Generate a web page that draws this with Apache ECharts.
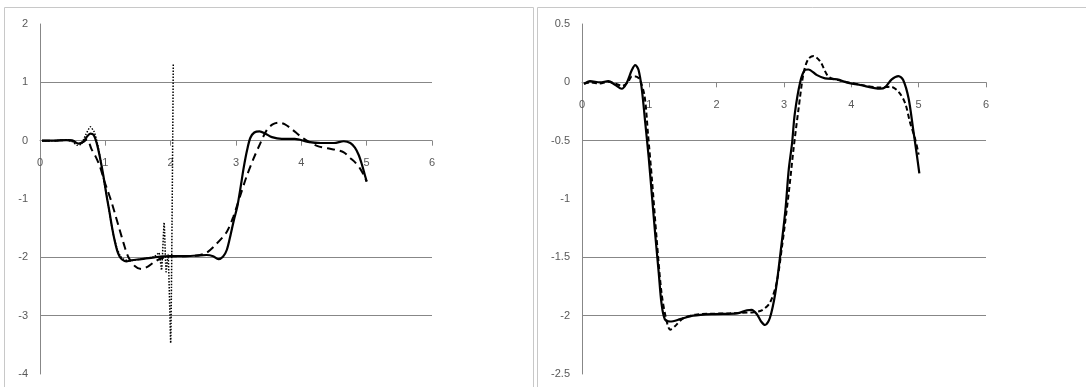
<!DOCTYPE html>
<html>
<head>
<meta charset="utf-8">
<script src="https://cdn.jsdelivr.net/npm/echarts@6/dist/echarts.min.js"></script>
<style>
html,body{margin:0;padding:0;background:#fff;}
#c{width:1086px;height:387px;}
</style>
</head>
<body>
<div id="c"></div>
<script>
// ---- Left panel data ----
var xTicksLeft = [0, 1, 2, 3, 4, 5, 6];
var yTicksLeft = [2, 1, 0, -1, -2, -3, -4];

var leftSolidX = [0.03,0.2,0.4,0.5,0.59,0.66,0.72,0.77,0.82,0.87,0.92,0.97,1.02,1.06,1.10,1.14,1.18,1.22,1.26,1.32,1.40,1.55,1.75,2.0,2.2,2.4,2.55,2.65,2.73,2.80,2.86,2.92,2.97,3.02,3.07,3.12,3.17,3.22,3.28,3.36,3.45,3.55,3.7,3.9,4.1,4.3,4.5,4.65,4.75,4.82,4.88,4.93,4.97,5.0];
var leftSolidY = [0,0,0.01,0,-0.05,-0.02,0.07,0.12,0.1,-0.05,-0.3,-0.6,-0.95,-1.2,-1.47,-1.7,-1.88,-1.99,-2.04,-2.07,-2.05,-2.03,-2.0,-1.98,-1.98,-1.97,-1.96,-1.98,-2.03,-1.99,-1.87,-1.6,-1.35,-1.13,-0.8,-0.45,-0.16,0.05,0.14,0.16,0.12,0.06,0.03,0.03,-0.02,-0.04,-0.04,-0.01,-0.04,-0.12,-0.25,-0.42,-0.58,-0.7];

var leftDashX = [0.03,0.2,0.4,0.5,0.58,0.65,0.72,0.79,0.85,0.92,0.98,1.04,1.10,1.16,1.22,1.28,1.35,1.45,1.55,1.65,1.75,1.85,2.0,2.2,2.4,2.55,2.7,2.86,2.96,3.06,3.16,3.26,3.37,3.47,3.56,3.65,3.75,3.85,4.03,4.24,4.4,4.54,4.65,4.75,4.83,4.9,4.96,5.0];
var leftDashY = [0,0,0.01,0,-0.05,-0.03,0.02,-0.15,-0.27,-0.45,-0.68,-0.87,-1.07,-1.3,-1.53,-1.76,-1.99,-2.15,-2.2,-2.16,-2.08,-2.02,-1.98,-1.98,-1.97,-1.92,-1.77,-1.56,-1.30,-0.96,-0.62,-0.33,-0.05,0.18,0.28,0.31,0.28,0.2,0.04,-0.09,-0.13,-0.16,-0.2,-0.3,-0.38,-0.48,-0.6,-0.7];

var leftDotX = [0.03,0.2,0.4,0.5,0.57,0.63,0.7,0.77,0.83,0.88,0.93,0.98,1.03,1.08,1.13,1.18,1.23,1.28,1.35,1.45,1.6,1.75,1.82,1.86,1.9,1.93,1.96,2.0,2.04];
var leftDotY = [0,0,0.01,-0.02,-0.08,-0.06,0.1,0.24,0.15,-0.05,-0.35,-0.7,-1.0,-1.35,-1.65,-1.85,-1.98,-2.03,-2.06,-2.05,-2.02,-1.99,-1.92,-2.22,-1.4,-2.25,-1.95,-3.47,1.33];

// ---- Right panel data ----
var xTicksRight = [0, 1, 2, 3, 4, 5, 6];
var yTicksRight = [0.5, 0, -0.5, -1, -1.5, -2, -2.5];

var rightSolidX = [0.03,0.12,0.27,0.39,0.49,0.59,0.66,0.74,0.79,0.84,0.89,0.94,0.99,1.04,1.09,1.14,1.18,1.23,1.31,1.46,1.65,1.95,2.30,2.45,2.52,2.60,2.66,2.72,2.79,2.87,2.94,3.02,3.07,3.12,3.16,3.24,3.31,3.36,3.49,3.61,3.79,3.93,4.13,4.43,4.50,4.60,4.70,4.77,4.85,4.92,4.97,5.01];
var rightSolidY = [-0.015,0.01,0,0.01,-0.02,-0.055,-0.01,0.105,0.148,0.105,-0.066,-0.35,-0.64,-0.98,-1.32,-1.635,-1.89,-2.03,-2.05,-2.03,-2.0,-1.986,-1.98,-1.954,-1.95,-1.99,-2.05,-2.08,-2.02,-1.81,-1.5,-1.1,-0.75,-0.52,-0.27,0.0,0.105,0.11,0.062,0.034,0.026,0.0,-0.023,-0.055,-0.043,0.026,0.054,0.02,-0.137,-0.41,-0.61,-0.78];

var rightDashX = [0.03,0.12,0.27,0.39,0.49,0.6,0.68,0.74,0.8,0.86,0.93,0.98,1.04,1.11,1.18,1.25,1.31,1.38,1.51,1.71,2.2,2.55,2.67,2.79,2.89,2.97,3.07,3.14,3.22,3.29,3.36,3.44,3.54,3.66,3.84,4.13,4.43,4.58,4.70,4.80,4.87,4.95,5.0];
var rightDashY = [-0.01,0,-0.01,0.005,-0.01,-0.03,0.0,0.05,0.05,0.02,-0.12,-0.44,-0.84,-1.35,-1.80,-2.03,-2.12,-2.09,-2.02,-1.99,-1.98,-1.97,-1.955,-1.89,-1.72,-1.41,-0.95,-0.58,-0.21,0.077,0.20,0.225,0.177,0.05,0.014,-0.02,-0.045,-0.037,-0.08,-0.18,-0.34,-0.49,-0.62];

function pairs(xs, ys){ return xs.map(function(x,i){ return [x, ys[i]]; }); }

var GRID = '#878787';
var TXT = '#595959';
var FONT = 'Liberation Sans';
var GRID_H = 350;
var splitColors = ['rgba(0,0,0,0)', GRID, GRID, 'rgba(0,0,0,0)', GRID, GRID, 'rgba(0,0,0,0)'];

// offset (px) that lifts a bottom x axis to y = 0 of its y axis
function zeroOffset(yt){
  var mn = yt[yt.length-1], mx = yt[0];
  return -((0 - mn) / (mx - mn)) * GRID_H;
}

function xAxisDef(gi, xt, yt){
  return {
    type:'value', gridIndex:gi, min:xt[0], max:xt[xt.length-1], interval:1,
    position:'bottom', offset: zeroOffset(yt),
    axisLine:{show:true, onZero:false, lineStyle:{color:GRID, width:1}},
    axisTick:{show:true, length:5, lineStyle:{color:GRID}},
    axisLabel:{color:TXT, fontFamily:FONT, fontSize:11, margin:17},
    splitLine:{show:false}
  };
}
function yAxisDef(gi, yt){
  return {
    type:'value', gridIndex:gi, min:yt[yt.length-1], max:yt[0], interval:yt[0]-yt[1],
    axisLine:{show:true, onZero:false, lineStyle:{color:GRID, width:1}},
    axisTick:{show:false},
    axisLabel:{color:TXT, fontFamily:FONT, fontSize:11, margin:12},
    splitLine:{show:true, lineStyle:{color:splitColors, width:1}}
  };
}

var chart = echarts.init(document.getElementById('c'), null, {renderer:'canvas'});
chart.setOption({
  animation:false,
  backgroundColor:'#fff',
  graphic:[
    {type:'rect', shape:{x:4.5, y:7.5, width:529, height:400}, style:{fill:'none', stroke:'#c8c8c8', lineWidth:1}, silent:true, z:-10},
    {type:'rect', shape:{x:537.5, y:7.5, width:600, height:400}, style:{fill:'none', stroke:'#c8c8c8', lineWidth:1}, silent:true, z:-10}
  ],
  grid:[
    {left:40, top:24, width:392, height:GRID_H, containLabel:false, outerBoundsMode:'none'},
    {left:582, top:24, width:404, height:GRID_H, containLabel:false, outerBoundsMode:'none'}
  ],
  xAxis:[xAxisDef(0, xTicksLeft, yTicksLeft), xAxisDef(1, xTicksRight, yTicksRight)],
  yAxis:[yAxisDef(0, yTicksLeft), yAxisDef(1, yTicksRight)],
  series:[
    {type:'line', xAxisIndex:0, yAxisIndex:0, data:pairs(leftSolidX,leftSolidY), smooth:0.3, showSymbol:false, lineStyle:{color:'#000', width:2.2}, z:5},
    {type:'line', xAxisIndex:0, yAxisIndex:0, data:pairs(leftDashX,leftDashY), smooth:0.3, showSymbol:false, lineStyle:{color:'#000', width:2, type:[8,5]}, z:4},
    {type:'line', xAxisIndex:0, yAxisIndex:0, data:pairs(leftDotX,leftDotY), smooth:0.15, showSymbol:false, lineStyle:{color:'#000', width:1.5, type:[1.5,1.5]}, z:3},
    {type:'line', xAxisIndex:1, yAxisIndex:1, data:pairs(rightSolidX,rightSolidY), smooth:0.3, showSymbol:false, lineStyle:{color:'#000', width:2.2}, z:5},
    {type:'line', xAxisIndex:1, yAxisIndex:1, data:pairs(rightDashX,rightDashY), smooth:0.3, showSymbol:false, lineStyle:{color:'#000', width:2, type:[5,3]}, z:4}
  ]
});
</script>
</body>
</html>
